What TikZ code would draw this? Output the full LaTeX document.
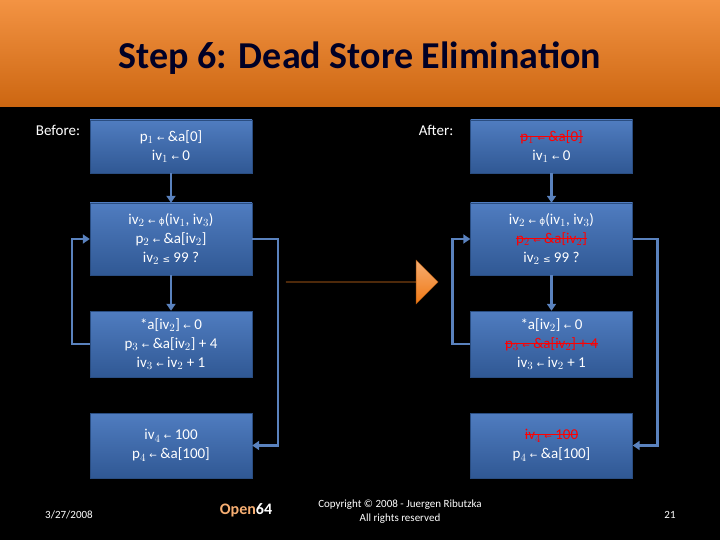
\documentclass[tikz,border=0pt]{standalone}
\usepackage{fontspec}
\setmainfont{Carlito}
\newfontfamily\symf{DejaVu Sans}
\usetikzlibrary{shapes.arrows,arrows.meta}
\definecolor{boxb}{RGB}{60,110,185}
\definecolor{edgeb}{RGB}{90,130,190}
\definecolor{orng}{RGB}{240,120,20}
\newcommand{\myla}{{\symf\small←}}
\newcommand{\myph}{{\symf\small ϕ}}
\newcommand{\myleq}{{\symf\small ≤}}
\newsavebox{\strkbox}
\newcommand{\dead}[1]{{\color{red}\sbox{\strkbox}{#1}\rlap{\usebox{\strkbox}}\raisebox{0.3em}{\rule{\wd\strkbox}{1pt}}}}
\begin{document}
\begin{tikzpicture}[x=1pt,y=-1pt,
  box/.style={draw=boxb!70!black,top color=boxb!90!white,bottom color=boxb!80!black,text=white,minimum width=162pt,align=center,font=\fontsize{15}{19}\selectfont,inner sep=0pt},
  conn/.style={draw=edgeb,line width=2.5pt,-{Triangle[length=7pt,width=9pt]}},
  lbl/.style={text=white,font=\fontsize{15}{18}\selectfont}]
\fill[black] (0,0) rectangle (720,540);
\shade[top color=orng!80!white,bottom color=orng!85!black] (0,0) rectangle (720,107);
\node[font=\fontsize{38}{44}\selectfont\bfseries,text=black!85!blue] (title) at (360,58) {Step 6: Dead Store Elimination};
\node[lbl] (before) at (58,130) {Before:};
\node[lbl] (after) at (436,130) {After:};
% left
\node[box,minimum height=53pt] (l1) at (171,146.5) {p$_1$ \myla{} \&a[0]\\iv$_1$ \myla{} 0};
\node[box,minimum height=72pt] (l2) at (171,239) {iv$_2$ \myla{} \myph(iv$_1$, iv$_3$)\\p$_2$ \myla{} \&a[iv$_2$]\\iv$_2$ \myleq{} 99 ?};
\node[box,minimum height=66pt] (l3) at (171,344) {*a[iv$_2$] \myla{} 0\\p$_3$ \myla{} \&a[iv$_2$] + 4\\iv$_3$ \myla{} iv$_2$ + 1};
\node[box,minimum height=65pt] (l4) at (171,445.5) {iv$_4$ \myla{} 100\\p$_4$ \myla{} \&a[100]};
\draw[conn] (l1) -- (l2);
\draw[conn] (l2) -- (l3);
\draw[conn] (l3.west) -- ++(-18,0) |- (l2.west);
\draw[conn] (l2.east) -- ++(26,0) |- (l4.east);
% right
\node[box,minimum height=53pt] (r1) at (551.5,146.5) {\dead{p$_1$ \myla{} \&a[0]}\\iv$_1$ \myla{} 0};
\node[box,minimum height=72pt] (r2) at (551.5,239) {iv$_2$ \myla{} \myph(iv$_1$, iv$_3$)\\\dead{p$_2$ \myla{} \&a[iv$_2$]}\\iv$_2$ \myleq{} 99 ?};
\node[box,minimum height=66pt] (r3) at (551.5,344) {*a[iv$_2$] \myla{} 0\\\dead{p$_3$ \myla{} \&a[iv$_2$] + 4}\\iv$_3$ \myla{} iv$_2$ + 1};
\node[box,minimum height=65pt] (r4) at (551.5,445.5) {\dead{iv$_4$ \myla{} 100}\\p$_4$ \myla{} \&a[100]};
\draw[conn] (r1) -- (r2);
\draw[conn] (r2) -- (r3);
\draw[conn] (r3.west) -- ++(-18,0) |- (r2.west);
\draw[conn] (r2.east) -- ++(25,0) |- (r4.east);
% big arrow
\node[single arrow,draw=orng!70!black,top color=orng!60!white,bottom color=orng,minimum height=152pt,single arrow head extend=20pt,minimum width=44pt,inner sep=0pt] (big) at (362,282) {};
\node[font=\fontsize{15}{21}\selectfont\bfseries,align=center,text=black] (bigt) at (352,283) {Dead Store\\Elimination};
% footer
\node[lbl,font=\fontsize{11}{13}\selectfont] (date) at (69,515) {3/27/2008};
\node[font=\fontsize{16}{18}\selectfont\bfseries,text=orng!60!white] (logo) at (246,510) {Open\textcolor{white}{64}};
\node[lbl,font=\fontsize{11}{14}\selectfont,align=center] (copy) at (400,512) {Copyright © 2008 - Juergen Ributzka\\All rights reserved};
\node[lbl,font=\fontsize{11}{13}\selectfont] (pg) at (670,515) {21};
\end{tikzpicture}
\end{document}
